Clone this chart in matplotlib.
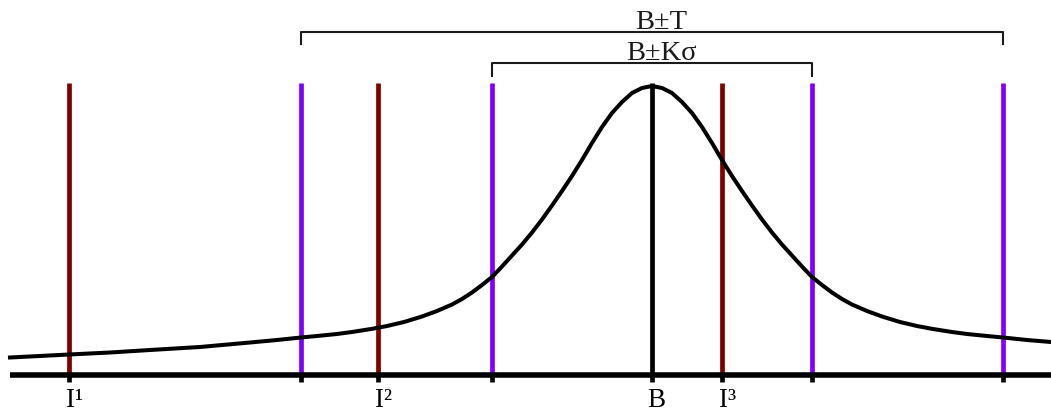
import matplotlib
matplotlib.use("Agg")
import matplotlib.pyplot as plt

# curve profile: distance from B and height above the axis (right half, mirrored on the left)
half_dx = [0, 10, 20, 30, 40, 50, 60, 70, 80, 90, 100, 110, 120, 130, 140, 150, 160,
           170, 180, 190, 200, 215, 230, 248, 265, 281, 300, 315, 335, 351]
half_h = [289, 287, 282, 273, 262, 248, 232, 215, 199, 184, 169.5, 155.5, 142.5, 130.5,
          119.5, 108.5, 98, 90, 82.5, 76, 70.5, 64, 58.5, 53, 49, 46, 43, 41, 39, 37.5]
# tails beyond the tolerance limits
left_tail_x = [-642, -583, -542, -502, -452, -402, -375]
left_tail_h = [17.5, 20.5, 22.5, 25, 28, 32.5, 35]
right_tail_x = [375, 399]
right_tail_h = [35, 33]

obs_x = [-583, -274, 70]
obs_sup = ["\u00b9", "\u00b2", "\u00b3"]
k_sigma = 160
tol = 351
bar_top = 292

red = "#800000"
purple = "#8000ff"
font = "Liberation Serif"

curve_x = left_tail_x + [-d for d in half_dx[:0:-1]] + half_dx + right_tail_x
curve_h = left_tail_h + half_h[:0:-1] + half_h + right_tail_h

fig = plt.figure(figsize=(10.51, 4.14), dpi=100)
ax = fig.add_axes([0, 0, 1, 1])
ax.set_xlim(-652, 399)
ax.set_ylim(-38, 376)
ax.axis("off")

# density curve
ax.plot(curve_x, curve_h, color="black", lw=2.9, solid_joinstyle="round", zorder=2)

# vertical markers
for x in obs_x:
    ax.plot([x, x], [0, bar_top], color=red, lw=3.4, solid_capstyle="butt", zorder=1)
limits = [-tol, -k_sigma, k_sigma, tol]
for x in limits:
    ax.plot([x, x], [0, bar_top], color=purple, lw=3.4, solid_capstyle="butt", zorder=1)
ax.plot([0, 0], [0, bar_top], color="black", lw=3.4, solid_capstyle="butt", zorder=3)

# axis line with small ticks underneath
ax.plot([-642, 399], [0, 0], color="black", lw=4, solid_capstyle="butt", zorder=4)
for x in obs_x + limits + [0]:
    ax.plot([x, x], [0, -7], color="black", lw=3.4, solid_capstyle="butt", zorder=4)

# brackets for the two ranges
def bracket(half, y, drop, label):
    ax.plot([-half, -half, half, half], [y - drop, y, y, y - drop],
            color="#1a1a1a", lw=1.5, zorder=2)
    ax.text(9, y + 4, label, ha="center", va="baseline", fontsize=20.5,
            family=font, color="#1a1a1a")

bracket(tol, 343, 12, "B\u00b1T")
bracket(k_sigma, 312, 13, "B\u00b1K\u03c3")

# labels below the axis
lab_y = -31
for x, sup in zip(obs_x, obs_sup):
    ax.text(x + 1, lab_y, "I", ha="center", va="baseline", fontsize=19.5, family=font)
    ax.text(x + 5, lab_y, sup, ha="left", va="baseline", fontsize=19.5, family=font)
ax.text(4, lab_y, "B", ha="center", va="baseline", fontsize=19.5, family=font)

fig.savefig("out.png", dpi=100)
